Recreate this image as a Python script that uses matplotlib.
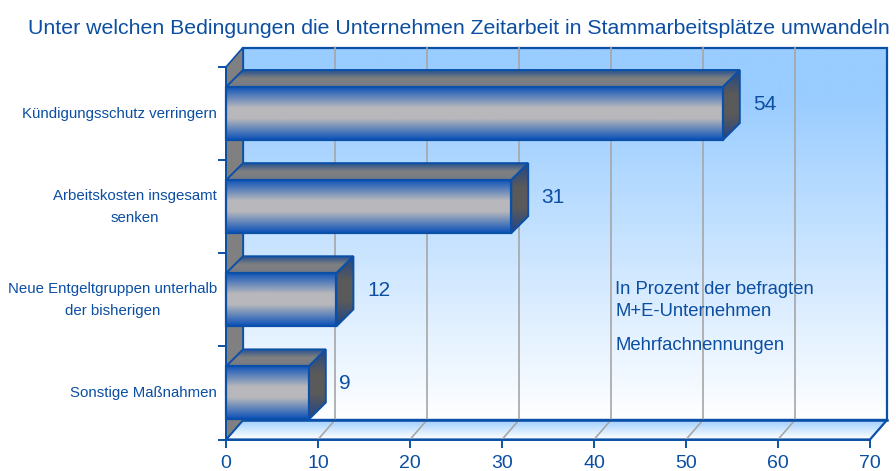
import numpy as np
import matplotlib
matplotlib.use("Agg")
import matplotlib.pyplot as plt
from matplotlib.colors import LinearSegmentedColormap
from matplotlib.patches import Polygon
from matplotlib.transforms import IdentityTransform

plt.rcParams["font.family"] = ["Liberation Sans", "DejaVu Sans"]

title = "Unter welchen Bedingungen die Unternehmen Zeitarbeit in Stammarbeitsplätze umwandeln"
categories = [
    "Kündigungsschutz verringern",
    "Arbeitskosten insgesamt\nsenken",
    "Neue Entgeltgruppen unterhalb\nder bisherigen",
    "Sonstige Maßnahmen",
]
values = [54, 31, 12, 9]
x_ticks = [0, 10, 20, 30, 40, 50, 60, 70]
notes = ["In Prozent der befragten", "M+E-Unternehmen", "Mehrfachnennungen"]

# colours
text_col = "#0B4EA2"
edge_col = "#0B50A8"
grid_col = "#A6A6A6"
wall_col = "#808080"

wall_cmap = LinearSegmentedColormap.from_list(
    "wall", [(0, "#99CCFF"), (0.13, "#99CCFF"), (1, "#FFFFFF")])
floor_cmap = LinearSegmentedColormap.from_list("floor", ["#99CCFF", "#FFFFFF"])
front_cmap = LinearSegmentedColormap.from_list(
    "front", [(0, "#0A50B8"), (0.4, "#B8B8BC"), (0.6, "#B8B8BC"), (1, "#0A50B8")])
top_cmap = LinearSegmentedColormap.from_list(
    "top", [(0, "#24508F"), (0.5, "#808080"), (1, "#747A86")])
side_cmap = LinearSegmentedColormap.from_list(
    "side", [(0, "#1E4488"), (0.35, "#5A5A5A"), (0.65, "#5A5A5A"), (1, "#1E4488")])

W, H = 896, 471
fig = plt.figure(figsize=(W / 100, H / 100), dpi=100, facecolor="white")
ax = fig.add_axes([226 / W, (H - 439.5) / H, 644 / W, 372.5 / H])
ax.set_xlim(0, 70)
ax.set_ylim(len(categories), 0)
ax.autoscale(False)
ax.patch.set_visible(False)
for side in ["top", "right"]:
    ax.spines[side].set_visible(False)
for side in ["left", "bottom"]:
    ax.spines[side].set_color(edge_col)
    ax.spines[side].set_linewidth(1.4)

# 3d depth in pixels
DX, DY = 17, 19.5
BAR_DX, BAR_DY = 17, 17
BAR_H = 0.57


def px(x, y):
    return ax.transData.transform((x, y))


def face(points, cmap, z, lw=1.2, ec=edge_col):
    # gradient running top to bottom, clipped to the polygon
    pts = np.array(points)
    poly = Polygon(pts, closed=True, transform=IdentityTransform(), fc="none", ec=ec,
                   lw=lw, zorder=z + 0.1, joinstyle="miter", clip_on=False)
    ax.add_patch(poly)
    grad = np.linspace(0, 1, 256).reshape(-1, 1)
    im = ax.imshow(grad, cmap=cmap, aspect="auto", origin="upper", interpolation="bilinear",
                   extent=(pts[:, 0].min(), pts[:, 0].max(), pts[:, 1].min(), pts[:, 1].max()),
                   transform=IdentityTransform(), zorder=z)
    im.set_clip_box(fig.bbox)
    im.set_clip_path(poly)


# back wall, floor, left wall
x0, x1 = ax.get_xlim()
yb, yt = ax.get_ylim()
bl, br, tl, tr = px(x0, yb), px(x1, yb), px(x0, yt), px(x1, yt)
off = np.array([DX, DY])
face([bl + off, br + off, tr + off, tl + off], wall_cmap, 1, lw=1.6)
face([bl, br, br + off, bl + off], floor_cmap, 1, lw=1.6)
ax.add_patch(Polygon([bl, tl, tl + off, bl + off], closed=True, transform=IdentityTransform(),
                     fc=wall_col, ec=edge_col, lw=1.2, zorder=1.1, clip_on=False))

# gridlines on floor and wall
for t in x_ticks[1:-1]:
    p = px(t, yb)
    q = px(t, yt)
    ax.plot([p[0], p[0] + DX, q[0] + DX], [p[1], p[1] + DY, q[1] + DY], color=grid_col, lw=1.2,
            transform=IdentityTransform(), zorder=2, clip_on=False)
# repaint the floor's back edge over the grid lines
ax.plot([bl[0] + DX, br[0] + DX], [bl[1] + DY, br[1] + DY], color=edge_col, lw=1.8,
        transform=IdentityTransform(), zorder=2.1, clip_on=False)

# bars
bar_off = np.array([BAR_DX, BAR_DY])
for i, v in enumerate(values):
    a = px(0, i + 0.5 + BAR_H / 2)
    b = px(v, i + 0.5 + BAR_H / 2)
    c = px(v, i + 0.5 - BAR_H / 2)
    d = px(0, i + 0.5 - BAR_H / 2)
    face([a, b, c, d], front_cmap, 4, lw=1.6)
    face([d, c, c + bar_off, d + bar_off], top_cmap, 3, lw=1.4)
    face([b, b + bar_off, c + bar_off, c], side_cmap, 3, lw=1.4)
    ax.annotate(str(v), (v, i + 0.5), xytext=(30.5, 9), textcoords="offset pixels", ha="left",
                va="center", fontsize=15, color=text_col, zorder=6)

# axes ticks
ax.set_xticks(x_ticks)
ax.tick_params(axis="x", length=6, width=1.4, color=edge_col, labelcolor=text_col,
               labelsize=14, pad=5.5)
ax.set_yticks(range(len(categories) + 1))
ax.set_yticklabels([])
ax.tick_params(axis="y", which="major", length=6, width=1.4, color=edge_col)
ax.set_yticks(np.arange(len(categories)) + 0.5, minor=True)
ax.set_yticklabels(categories, minor=True, fontsize=10.8, color=text_col, linespacing=1.7,
                   multialignment="center", va="center")
ax.tick_params(axis="y", which="minor", length=0, pad=6.5)

# texts
fig.text(28 / W, (H - 28) / H, title, fontsize=15.35, color=text_col, ha="left", va="center")
fig.text(615 / W, (H - 289) / H, notes[0], fontsize=13.3, color=text_col, ha="left", va="center")
fig.text(615 / W, (H - 311) / H, notes[1], fontsize=13.3, color=text_col, ha="left", va="center")
fig.text(615 / W, (H - 345) / H, notes[2], fontsize=13.3, color=text_col, ha="left", va="center")

fig.savefig("out.png", dpi=100)
